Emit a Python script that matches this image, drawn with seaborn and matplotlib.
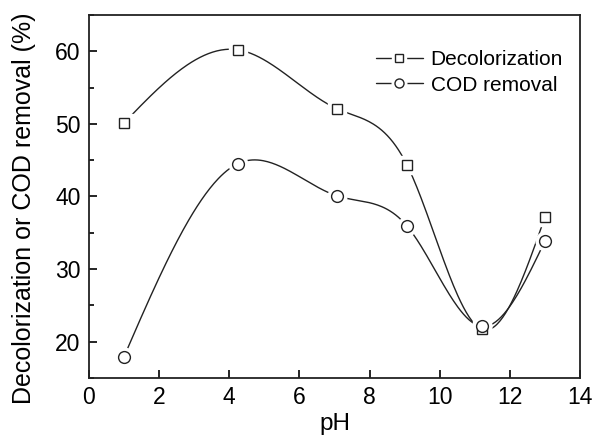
import numpy as np
import pandas as pd
import seaborn as sns
from matplotlib import pyplot as plt
from matplotlib.lines import Line2D
from matplotlib.ticker import MultipleLocator

ph = [1.0, 4.24, 7.06, 9.07, 11.2, 13.0]
decolorization = [50.1, 60.2, 52.1, 44.3, 21.7, 37.2]
cod_removal = [17.9, 44.5, 40.1, 35.9, 22.1, 33.9]


def natural_spline(x, y, n=300):
    # plain natural cubic spline so the curve goes smoothly through the points
    x = np.asarray(x, float)
    y = np.asarray(y, float)
    k = len(x)
    h = np.diff(x)
    A = np.zeros((k, k))
    b = np.zeros(k)
    A[0, 0] = A[-1, -1] = 1
    for i in range(1, k - 1):
        A[i, i - 1] = h[i - 1]
        A[i, i] = 2 * (h[i - 1] + h[i])
        A[i, i + 1] = h[i]
        b[i] = 6 * ((y[i + 1] - y[i]) / h[i] - (y[i] - y[i - 1]) / h[i - 1])
    m = np.linalg.solve(A, b)
    xs = np.linspace(x[0], x[-1], n)
    idx = np.clip(np.searchsorted(x, xs) - 1, 0, k - 2)
    x0, x1 = x[idx], x[idx + 1]
    hh = x1 - x0
    t0, t1 = x1 - xs, xs - x0
    ys = (m[idx] * t0 ** 3 + m[idx + 1] * t1 ** 3) / (6 * hh) \
        + (y[idx] / hh - m[idx] * hh / 6) * t0 \
        + (y[idx + 1] / hh - m[idx + 1] * hh / 6) * t1
    return xs, ys


sns.set_style('ticks')
plt.rcParams['font.family'] = ['Liberation Sans', 'DejaVu Sans']
plt.rcParams['text.color'] = 'black'
plt.rcParams['axes.labelcolor'] = 'black'
plt.rcParams['xtick.color'] = 'black'
plt.rcParams['ytick.color'] = 'black'

fig, ax = plt.subplots(figsize=(5.92, 4.38), dpi=100)
fig.subplots_adjust(left=0.150, right=0.980, bottom=0.137, top=0.966)

df = pd.DataFrame({'pH': ph, 'Decolorization': decolorization, 'COD removal': cod_removal})

for col, mk, ms in [('Decolorization', 's', 7.5), ('COD removal', 'o', 8.5)]:
    xs, ys = natural_spline(df['pH'], df[col])
    sns.lineplot(x=xs, y=ys, ax=ax, color='#222222', lw=1.0, sort=False, zorder=2)
    # white halo gives the small gap between curve and symbol
    ax.plot(df['pH'], df[col], ls='none', marker=mk, ms=ms + 5, mfc='white', mec='white', zorder=3)
    ax.plot(df['pH'], df[col], ls='none', marker=mk, ms=ms, mfc='white', mec='#222222', mew=1.0, zorder=4)

ax.set_xlim(0, 14)
ax.set_ylim(15, 65)
ax.xaxis.set_major_locator(MultipleLocator(2))
ax.yaxis.set_major_locator(MultipleLocator(10))
ax.yaxis.set_minor_locator(MultipleLocator(5))
ax.tick_params(which='major', direction='in', length=6, width=1.2, labelsize=16.5, pad=6)
ax.tick_params(which='minor', direction='in', length=3.5, width=1.2)
ax.tick_params(axis='y', which='both', right=False)
for s in ax.spines.values():
    s.set_linewidth(1.3)
    s.set_color('#222222')

ax.set_xlabel('pH', fontsize=17.5, labelpad=3)
ax.set_ylabel('Decolorization or COD removal (%)', fontsize=18)
ax.yaxis.set_label_coords(-0.108, 0.468)


def legend_handle(mk, ms):
    line = Line2D([], [], color='#222222', lw=1.0)
    halo = Line2D([], [], ls='none', marker=mk, ms=ms + 4, mfc='white', mec='white')
    mark = Line2D([], [], ls='none', marker=mk, ms=ms, mfc='white', mec='#222222', mew=1.0)
    return (line, halo, mark)


handles = [legend_handle('s', 5.5), legend_handle('o', 6.5)]
ax.legend(handles, ['Decolorization', 'COD removal'], loc='upper right', frameon=False,
          fontsize=15, handlelength=2.3, handletextpad=0.34, labelspacing=0.32,
          bbox_to_anchor=(1.003, 0.955))

plt.savefig('out.png', dpi=100)
